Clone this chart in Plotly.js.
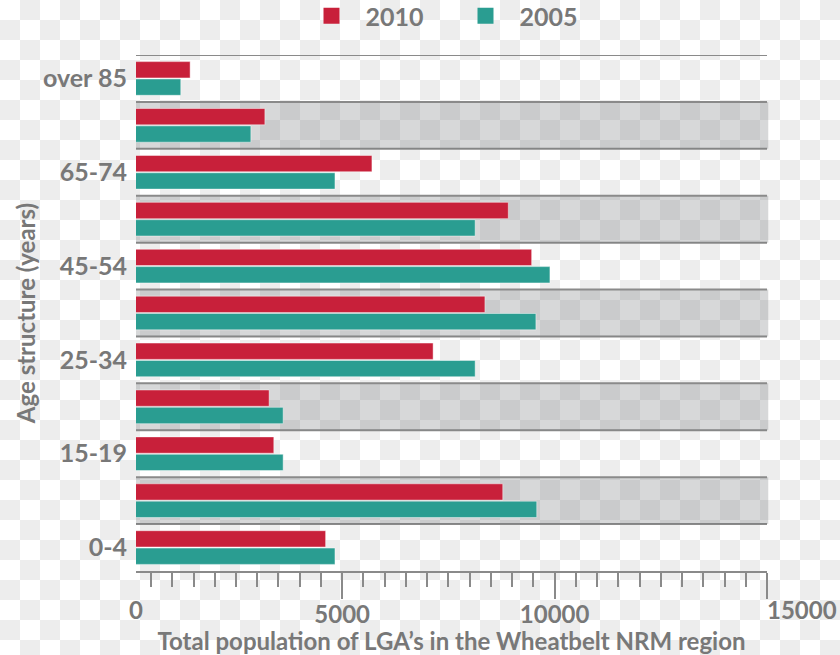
<!DOCTYPE html>
<html>
<head>
<meta charset="utf-8">
<script src="https://cdn.plot.ly/plotly-3.0.1.min.js"></script>
<style>
  html, body { margin: 0; padding: 0; }
  html {
    background-color: #ffffff;
    background-image: conic-gradient(#ededed 0 25%, #ffffff 0 50%, #ededed 0 75%, #ffffff 0);
    background-size: 40px 40px;
    background-position: 0 0;
  }
  #chart { width: 840px; height: 655px; }
</style>
</head>
<body>
<div id="chart"></div>
<script>
// Age groups, bottom to top on the category axis
const ageGroups = ['0-4', '5-14', '15-19', '20-24', '25-34', '35-44', '45-54', '55-64', '65-74', '75-84', 'over 85'];

// Total population of LGAs in the Wheatbelt NRM region
const pop2010 = [4610, 8780, 3390, 3280, 7140, 8360, 9460, 8910, 5700, 3180, 1420];
const pop2005 = [4830, 9580, 3610, 3610, 8130, 9560, 9890, 8130, 4830, 2850, 1200];

const seriesNames = ['2010', '2005'];
const seriesColors = ['#c8203a', '#2a9d91'];

// x tick labels
const xTickVals = [5000, 10000];
const xEdgeLabels = ['0', '15000'];

const textGrey = '#787878';
const lineGrey = '#8a8a8a';
const fontFamily = 'Lato, "Open Sans", sans-serif';

const barLine = { color: 'rgba(255,255,255,0.45)', width: 1 };

// 2005 first so it sits below 2010 inside each group
const traces = [
  {
    type: 'bar', orientation: 'h', name: seriesNames[1],
    y: ageGroups, x: pop2005,
    marker: { color: seriesColors[1], line: barLine },
    showlegend: false, hoverinfo: 'x'
  },
  {
    type: 'bar', orientation: 'h', name: seriesNames[0],
    y: ageGroups, x: pop2010,
    marker: { color: seriesColors[0], line: barLine },
    showlegend: false, hoverinfo: 'x'
  },
  // legend keys
  {
    type: 'scatter', mode: 'markers', name: seriesNames[0],
    x: [null], y: [null],
    marker: { symbol: 'square', size: 16, color: seriesColors[0] },
    hoverinfo: 'skip', showlegend: true
  },
  {
    type: 'scatter', mode: 'markers', name: seriesNames[1],
    x: [null], y: [null],
    marker: { symbol: 'square', size: 16, color: seriesColors[1] },
    hoverinfo: 'skip', showlegend: true
  }
];

// alternating grey bands and row separator lines
const shapes = [];
ageGroups.forEach((g, i) => {
  if (i % 2 === 1) {
    shapes.push({
      type: 'rect', layer: 'below', xref: 'paper', yref: 'y',
      x0: 0, x1: 1.002, y0: i - 0.5, y1: i + 0.5,
      fillcolor: 'rgba(112,114,120,0.28)', line: { width: 0 }
    });
  }
  shapes.push({
    type: 'line', layer: 'below', xref: 'paper', yref: 'y',
    x0: 0, x1: 1, y0: i + 0.5, y1: i + 0.5,
    line: { color: lineGrey, width: 2 }
  });
});

const layout = {
  width: 840, height: 655,
  margin: { l: 136, r: 73, t: 55, b: 84, autoexpand: false },
  paper_bgcolor: 'rgba(0,0,0,0)',
  plot_bgcolor: 'rgba(0,0,0,0)',
  font: { family: fontFamily, color: textGrey, weight: 700 },
  barmode: 'group',
  bargap: 0.26,
  bargroupgap: 0.06,
  showlegend: true,
  legend: {
    orientation: 'h',
    x: 0.5, xanchor: 'center', xref: 'paper',
    y: 1.12, yanchor: 'top', yref: 'paper',
    font: { size: 25, color: textGrey, family: fontFamily, weight: 700 },
    bgcolor: 'rgba(0,0,0,0)',
    itemwidth: 58,
    entrywidth: 81
  },
  xaxis: {
    range: [146, 15000],
    fixedrange: true,
    showgrid: false, zeroline: false,
    showline: true, linecolor: lineGrey, linewidth: 2,
    tickmode: 'array', tickvals: xTickVals.concat([15000]), ticktext: xTickVals.map(String).concat(['']),
    ticks: 'outside', ticklen: 26, tickwidth: 2, tickcolor: lineGrey,
    ticklabelstandoff: -5,
    minor: { dtick: 500, tick0: 0, ticks: 'outside', ticklen: 14, tickwidth: 2, tickcolor: lineGrey },
    tickfont: { size: 24, color: textGrey, family: fontFamily, weight: 700 },
    title: {
      text: 'Total population of LGA’s in the Wheatbelt NRM region',
      font: { size: 24, color: textGrey, family: fontFamily, weight: 700 },
      standoff: 0
    }
  },
  yaxis: {
    type: 'category',
    categoryorder: 'array', categoryarray: ageGroups,
    range: [-0.5, ageGroups.length - 0.5],
    fixedrange: true,
    showgrid: false, zeroline: false, showline: false,
    tickmode: 'array', tickvals: ageGroups.filter((g, i) => i % 2 === 0),
    ticks: '', ticklabelstandoff: 8,
    tickfont: { size: 25, color: textGrey, family: fontFamily, weight: 700 },
    title: {
      text: 'Age structure (years)',
      font: { size: 24, color: textGrey, family: fontFamily, weight: 700 },
      standoff: 0
    }
  },
  shapes: shapes,
  annotations: [
    {
      xref: 'paper', yref: 'paper', x: 0, y: 0,
      xanchor: 'center', yanchor: 'top', yshift: -22,
      text: xEdgeLabels[0], showarrow: false,
      font: { size: 24, color: textGrey, family: fontFamily, weight: 700 }
    },
    {
      xref: 'x', yref: 'paper', x: 15000, y: 0,
      xanchor: 'left', yanchor: 'top', yshift: -22, xshift: -2,
      text: xEdgeLabels[1], showarrow: false,
      font: { size: 24, color: textGrey, family: fontFamily, weight: 700 }
    }
  ]
};

Plotly.newPlot('chart', traces, layout, { displayModeBar: false, staticPlot: true });
</script>
</body>
</html>
